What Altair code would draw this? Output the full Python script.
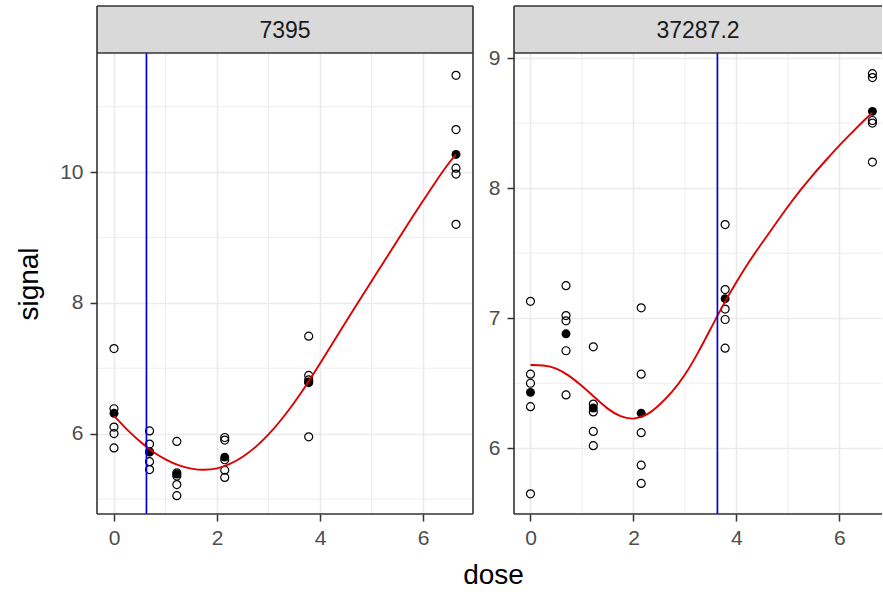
import altair as alt
import pandas as pd

FONT = "Liberation Sans"
GRID = "#EBEBEB"
BORDER = "#333333"
STRIP_FILL = "#D9D9D9"
STRIP_H = 47
PANEL_H = 461
TOTAL_H = STRIP_H + PANEL_H

DOSES = [0.0, 0.69, 1.22, 2.15, 3.78, 6.64]
X_MAJOR = [0, 2, 4, 6]

# ---- left panel (7395) ----
LEFT_LABEL = "7395"
LEFT_REPS = [
    [7.30, 6.38, 6.10, 6.00, 5.78],
    [6.04, 5.84, 5.72, 5.57, 5.45],
    [5.88, 5.40, 5.35, 5.22, 5.05],
    [5.94, 5.90, 5.60, 5.44, 5.33],
    [7.49, 6.89, 6.82, 6.78, 5.95],
    [11.48, 10.65, 10.06, 9.97, 9.20],
]
LEFT_MEANS = [6.31, 5.72, 5.38, 5.64, 6.79, 10.27]
CURVE_X = [0, 0.25, 0.5, 0.75, 1.0, 1.25, 1.5, 1.75, 2.0, 2.25, 2.5, 2.75,
           3.0, 3.25, 3.5, 3.75, 4.0, 4.25, 4.5, 4.75, 5.0, 5.25, 5.5, 5.75,
           6.0, 6.25, 6.5, 6.64]
LEFT_CURVE_Y = [6.27, 6.06, 5.88, 5.72, 5.60, 5.51, 5.46, 5.44, 5.46, 5.53,
                5.64, 5.79, 5.98, 6.21, 6.47, 6.76, 7.07, 7.39, 7.71, 8.02,
                8.33, 8.64, 8.95, 9.26, 9.56, 9.86, 10.14, 10.27]
LEFT_VLINE = 0.63
LEFT_Y_MAJOR = [6, 8, 10]
LEFT_Y_MINOR = [5, 7, 9, 11]
LEFT_X_MINOR = [1, 3, 5]

# ---- right panel (37287.2) ----
RIGHT_LABEL = "37287.2"
RIGHT_REPS = [
    [7.13, 6.57, 6.50, 6.32, 5.65],
    [7.25, 7.02, 6.98, 6.75, 6.41],
    [6.78, 6.34, 6.28, 6.13, 6.02],
    [7.08, 6.57, 6.12, 5.87, 5.73],
    [7.72, 7.22, 7.07, 6.99, 6.77],
    [8.88, 8.85, 8.52, 8.50, 8.20],
]
RIGHT_MEANS = [6.43, 6.88, 6.31, 6.27, 7.15, 8.59]
RIGHT_CURVE_Y = [6.64, 6.64, 6.62, 6.56, 6.48, 6.39, 6.30, 6.24, 6.22, 6.25,
                 6.33, 6.43, 6.56, 6.73, 6.92, 7.11, 7.28, 7.44, 7.58, 7.72,
                 7.86, 7.99, 8.11, 8.22, 8.33, 8.43, 8.53, 8.58]
RIGHT_VLINE = 3.63
RIGHT_Y_MAJOR = [6, 7, 8, 9]
RIGHT_Y_MINOR = [5.5, 6.5, 7.5, 8.5]
RIGHT_X_MINOR = [1, 3, 5]


def build_panel(label, reps, means, curve_y, vline, xdom, ydom, width,
                ymajor, yminor, xminor, is_left):
    reps_df = pd.DataFrame([{"dose": d, "signal": v}
                            for d, vals in zip(DOSES, reps) for v in vals])
    means_df = pd.DataFrame({"dose": DOSES, "signal": means})
    curve_df = pd.DataFrame({"dose": CURVE_X, "signal": curve_y})
    vline_df = pd.DataFrame({"dose": [vline]})
    yminor_df = pd.DataFrame({"signal": yminor})
    xminor_df = pd.DataFrame({"dose": xminor})
    one_df = pd.DataFrame({"label": [label]})

    xaxis_kw = dict(values=X_MAJOR, grid=True, gridColor=GRID, gridWidth=1.6,
                    domain=False, tickColor=BORDER, tickSize=7, tickWidth=1.5,
                    labelFont=FONT, labelFontSize=21, labelColor="#4D4D4D",
                    labelPadding=6, labelFlush=False, labelOverlap=False,
                    format="d")
    yaxis_kw = dict(values=ymajor, grid=True, gridColor=GRID, gridWidth=1.6,
                    domain=False, tickColor=BORDER, tickSize=7, tickWidth=1.5,
                    labelFont=FONT, labelFontSize=21, labelColor="#4D4D4D",
                    labelPadding=7, labelFlush=False, labelOverlap=False,
                    format="d")
    if is_left:
        xaxis_kw.update(title="dose", titleFont=FONT, titleFontSize=28,
                        titleFontWeight="normal", titleColor="black",
                        titleX=396, titleY=69, titleAlign="center",
                        titleBaseline="alphabetic")
        yaxis_kw.update(title="signal", titleFont=FONT, titleFontSize=28,
                        titleFontWeight="normal", titleColor="black",
                        titleX=-60, titleY=277.5, titleAlign="center",
                        titleBaseline="alphabetic", titleAngle=270)
    else:
        xaxis_kw.update(title="")
        yaxis_kw.update(title="")

    X = alt.X("dose:Q", scale=alt.Scale(domain=xdom, nice=False, zero=False),
              axis=alt.Axis(**xaxis_kw))
    Y = alt.Y("signal:Q", scale=alt.Scale(domain=ydom, nice=False, zero=False),
              axis=alt.Axis(**yaxis_kw))

    layers = []
    layers.append(alt.Chart(yminor_df).mark_rule(color=GRID, strokeWidth=0.9).encode(
        y=Y, x=alt.value(0), x2=alt.value(width)))
    layers.append(alt.Chart(xminor_df).mark_rule(color=GRID, strokeWidth=0.9).encode(
        x=X, y=alt.value(STRIP_H), y2=alt.value(TOTAL_H)))
    layers.append(alt.Chart(reps_df).mark_point(
        shape="circle", filled=False, color="black", size=64, strokeWidth=1.2,
        opacity=1).encode(x=X, y=Y))
    layers.append(alt.Chart(means_df).mark_circle(
        color="black", size=80, opacity=1).encode(x=X, y=Y))
    layers.append(alt.Chart(curve_df).mark_line(
        color="#DD0000", strokeWidth=1.9, interpolate="basis").encode(x=X, y=Y))
    layers.append(alt.Chart(vline_df).mark_rule(
        color="#0000E0", strokeWidth=1.7).encode(
        x=X, y=alt.value(STRIP_H), y2=alt.value(TOTAL_H)))
    # strip
    layers.append(alt.Chart(one_df).mark_rect(fill=STRIP_FILL, strokeWidth=0).encode(
        x=alt.value(0), x2=alt.value(width), y=alt.value(0), y2=alt.value(STRIP_H)))
    layers.append(alt.Chart(one_df).mark_text(
        font=FONT, fontSize=23, color="#1A1A1A", align="center",
        baseline="middle").encode(
        text="label:N", x=alt.value(width / 2), y=alt.value(25)))
    # borders
    border = alt.Chart(one_df).mark_rule(color=BORDER, strokeWidth=1.6)
    layers.append(border.encode(x=alt.value(0), x2=alt.value(width), y=alt.value(0)))
    layers.append(border.encode(x=alt.value(0), x2=alt.value(width), y=alt.value(STRIP_H)))
    layers.append(border.encode(x=alt.value(0), x2=alt.value(width), y=alt.value(TOTAL_H)))
    layers.append(border.encode(x=alt.value(0), y=alt.value(0), y2=alt.value(TOTAL_H)))
    if is_left:
        layers.append(border.encode(x=alt.value(width), y=alt.value(0),
                                    y2=alt.value(TOTAL_H)))
    return alt.layer(*layers).properties(
        width=width, height=TOTAL_H,
        view=alt.ViewBackground(stroke="transparent", strokeWidth=0))


left = build_panel(LEFT_LABEL, LEFT_REPS, LEFT_MEANS, LEFT_CURVE_Y, LEFT_VLINE,
                   [-0.33, 6.97], [4.77, 12.54], 376,
                   LEFT_Y_MAJOR, LEFT_Y_MINOR, LEFT_X_MINOR, True)
right = build_panel(RIGHT_LABEL, RIGHT_REPS, RIGHT_MEANS, RIGHT_CURVE_Y,
                    RIGHT_VLINE, [-0.32, 6.826], [5.495, 9.40], 368,
                    RIGHT_Y_MAJOR, RIGHT_Y_MINOR, RIGHT_X_MINOR, False)

chart = alt.hconcat(left, right, spacing=41, bounds="flush").properties(
    padding={"left": 15, "top": 5, "right": 0, "bottom": 0}
).configure(font=FONT).configure_view(stroke="transparent", strokeWidth=0)

chart.save("out.html", embed_options={"renderer": "svg", "actions": False})
